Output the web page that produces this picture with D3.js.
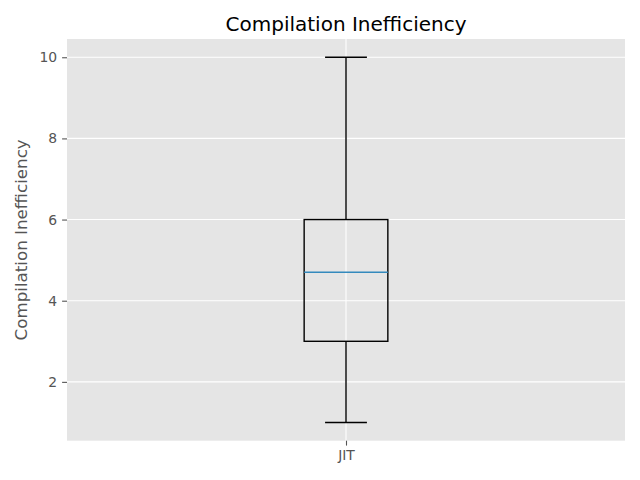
<!DOCTYPE html>
<html>
<head>
<meta charset="utf-8">
<script src="https://cdn.jsdelivr.net/npm/d3@7"></script>
<style>
  body { margin: 0; background: #fff; }
  text { font-family: 'DejaVu Sans', sans-serif; }
</style>
</head>
<body>
<svg id="chart" width="640" height="480"></svg>
<script>
// data
var categories = ['JIT']
var whiskerLow = [1]
var q1 = [3]
var median = [4.7]
var q3 = [6]
var whiskerHigh = [10]
var yTicks = [2, 4, 6, 8, 10]

var W = 640, H = 480
var margin = {top: 39, right: 15, bottom: 39.3, left: 67}
var innerw = W - margin.left - margin.right
var innerh = H - margin.top - margin.bottom
var lw = 1.39

var svg = d3.select('#chart')
var g = svg.append('g').attr('transform', `translate(${margin.left},${margin.top})`)

var x = d3.scaleLinear().domain([0.5, categories.length + 0.5]).range([0, innerw])
var y = d3.scaleLinear().domain([0.55, 10.45]).range([innerh, 0])

// background
g.append('rect')
    .attr('width', innerw)
    .attr('height', innerh)
    .attr('fill', '#e5e5e5')

// grid
g.selectAll('.ygrid')
    .data(yTicks)
  .enter().append('line')
    .attr('x1', 0).attr('x2', innerw)
    .attr('y1', d => y(d)).attr('y2', d => y(d))
    .attr('stroke', '#fff').attr('stroke-width', 1.1)

g.selectAll('.xgrid')
    .data(categories)
  .enter().append('line')
    .attr('x1', (d, i) => x(i + 1)).attr('x2', (d, i) => x(i + 1))
    .attr('y1', 0).attr('y2', innerh)
    .attr('stroke', '#fff').attr('stroke-width', 1.1)

// axes
var yAxis = d3.axisLeft(y).tickValues(yTicks).tickSize(4.9).tickPadding(4.9)
var xAxis = d3.axisBottom(x).tickValues(categories.map((d, i) => i + 1))
    .tickFormat((d) => categories[d - 1]).tickSize(4.9).tickPadding(4.9)

var ya = g.append('g').call(yAxis)
var xa = g.append('g').attr('transform', `translate(0,${innerh})`).call(xAxis)

;[ya, xa].forEach(function (a) {
  a.select('.domain').remove()
  a.selectAll('line').attr('stroke', '#555').attr('stroke-width', 1.1)
  a.selectAll('text').attr('fill', '#555').style('font-size', '13.9px')
})

// boxes
var boxW = 0.15
var capW = boxW / 2
var items = g.selectAll('.item')
    .data(categories)
  .enter().append('g')
    .classed('item', true)
    .attr('stroke-width', lw)

items.append('line')
    .attr('x1', (d, i) => x(i + 1)).attr('x2', (d, i) => x(i + 1))
    .attr('y1', (d, i) => y(whiskerLow[i])).attr('y2', (d, i) => y(q1[i]))
    .attr('stroke', '#000')
items.append('line')
    .attr('x1', (d, i) => x(i + 1)).attr('x2', (d, i) => x(i + 1))
    .attr('y1', (d, i) => y(q3[i])).attr('y2', (d, i) => y(whiskerHigh[i]))
    .attr('stroke', '#000')

items.append('line')
    .attr('x1', (d, i) => x(i + 1 - capW / 2)).attr('x2', (d, i) => x(i + 1 + capW / 2))
    .attr('y1', (d, i) => y(whiskerLow[i])).attr('y2', (d, i) => y(whiskerLow[i]))
    .attr('stroke', '#000')
items.append('line')
    .attr('x1', (d, i) => x(i + 1 - capW / 2)).attr('x2', (d, i) => x(i + 1 + capW / 2))
    .attr('y1', (d, i) => y(whiskerHigh[i])).attr('y2', (d, i) => y(whiskerHigh[i]))
    .attr('stroke', '#000')

items.append('rect')
    .attr('x', (d, i) => x(i + 1 - boxW / 2))
    .attr('width', (d, i) => x(i + 1 + boxW / 2) - x(i + 1 - boxW / 2))
    .attr('y', (d, i) => y(q3[i]))
    .attr('height', (d, i) => y(q1[i]) - y(q3[i]))
    .attr('fill', 'none')
    .attr('stroke', '#000')

items.append('line')
    .attr('x1', (d, i) => x(i + 1 - boxW / 2)).attr('x2', (d, i) => x(i + 1 + boxW / 2))
    .attr('y1', (d, i) => y(median[i])).attr('y2', (d, i) => y(median[i]))
    .attr('stroke', '#348ABD')

// title and label
svg.append('text')
    .attr('x', margin.left + innerw / 2)
    .attr('y', 30.5)
    .attr('text-anchor', 'middle')
    .style('font-size', '20px')
    .attr('fill', '#000')
    .text('Compilation Inefficiency')

svg.append('text')
    .attr('transform', `translate(27,${margin.top + innerh / 2}) rotate(-90)`)
    .attr('text-anchor', 'middle')
    .style('font-size', '16.7px')
    .attr('fill', '#555')
    .text('Compilation Inefficiency')
</script>
</body>
</html>
